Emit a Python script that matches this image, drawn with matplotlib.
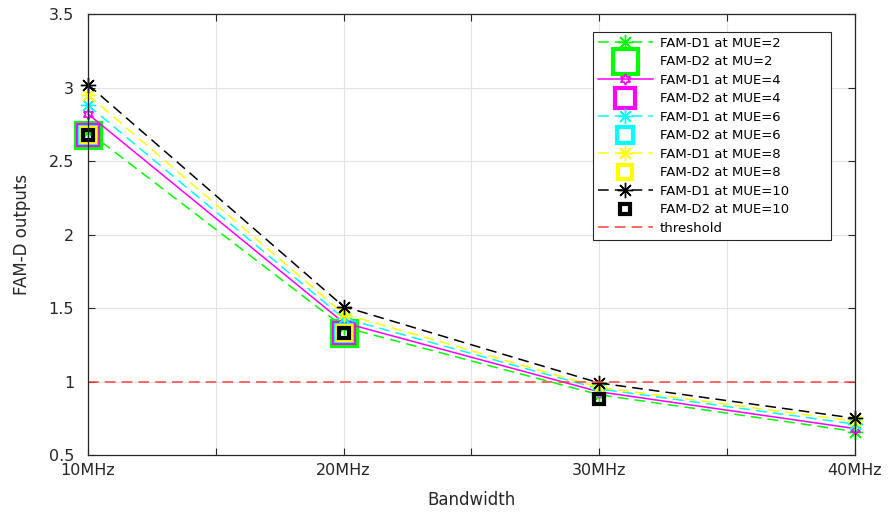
import matplotlib
matplotlib.use('Agg')
import matplotlib.pyplot as plt

plt.rcParams['font.family'] = ['DejaVu Sans']

bandwidth = [10, 20, 30, 40]
tick_pos = [10, 15, 20, 25, 30, 35, 40]
tick_labels = ['10MHz', '', '20MHz', '', '30MHz', '', '40MHz']

# FAM-D1 outputs for each MUE count
d1_mue2 = [2.70, 1.37, 0.91, 0.66]
d1_mue4 = [2.82, 1.40, 0.93, 0.68]
d1_mue6 = [2.88, 1.43, 0.95, 0.71]
d1_mue8 = [2.95, 1.46, 0.96, 0.73]
d1_mue10 = [3.02, 1.51, 0.99, 0.75]

# FAM-D2 outputs (only MUE=10 has a 30MHz point)
d2_bandwidth = [10, 20]
d2_outputs = [2.68, 1.33]
d2_bandwidth_mue10 = [10, 20, 30]
d2_outputs_mue10 = [2.68, 1.33, 0.88]

threshold = 1.0

star = (8, 2, 0)
hexagram = (6, 1, 0)
grey = '#262626'

fig = plt.figure(figsize=(8.96, 5.13), dpi=100)
ax = fig.add_axes([0.0982, 0.113, 0.856, 0.8597])

lw = 1.1
ax.plot(bandwidth, d1_mue2, color='#00ff00', linestyle='--', dashes=(7, 4), lw=lw,
        marker=star, markersize=11, mew=1.0, label='FAM-D1 at MUE=2', clip_on=False)
ax.plot(d2_bandwidth, d2_outputs, color='#00ff00', linestyle='none', marker='s',
        markersize=18, mfc='none', mew=3, label='FAM-D2 at MU=2', clip_on=False)
ax.plot(bandwidth, d1_mue4, color='#ff00ff', linestyle='-', lw=lw,
        marker=hexagram, markersize=8, mfc='none', mew=1.2, label='FAM-D1 at MUE=4',
        clip_on=False)
ax.plot(d2_bandwidth, d2_outputs, color='#ff00ff', linestyle='none', marker='s',
        markersize=15, mfc='none', mew=3, label='FAM-D2 at MUE=4', clip_on=False)
ax.plot(bandwidth, d1_mue6, color='#00ffff', linestyle='--', dashes=(7, 4), lw=lw,
        marker=star, markersize=11, mew=1.0, label='FAM-D1 at MUE=6', clip_on=False)
ax.plot(d2_bandwidth, d2_outputs, color='#00ffff', linestyle='none', marker='s',
        markersize=12, mfc='none', mew=3, label='FAM-D2 at MUE=6', clip_on=False)
ax.plot(bandwidth, d1_mue8, color='#ffff00', linestyle='--', dashes=(7, 4), lw=lw,
        marker=star, markersize=11, mew=1.0, label='FAM-D1 at MUE=8', clip_on=False)
ax.plot(d2_bandwidth, d2_outputs, color='#ffff00', linestyle='none', marker='s',
        markersize=9.5, mfc='none', mew=3, label='FAM-D2 at MUE=8', clip_on=False)
ax.plot(bandwidth, d1_mue10, color='black', linestyle='--', dashes=(7, 4), lw=lw,
        marker=star, markersize=11, mew=1.0, label='FAM-D1 at MUE=10', clip_on=False)
ax.plot(d2_bandwidth_mue10, d2_outputs_mue10, color='black', linestyle='none', marker='s',
        markersize=7, mfc='none', mew=3, label='FAM-D2 at MUE=10', clip_on=False)
ax.plot([bandwidth[0], bandwidth[-1]], [threshold, threshold], color='#ff4040',
        linestyle='--', dashes=(7, 4), lw=lw, label='threshold')

ax.set_xlim(10, 40)
ax.set_ylim(0.5, 3.5)
ax.set_xticks(tick_pos)
ax.set_xticklabels(tick_labels)
ax.set_yticks([0.5, 1, 1.5, 2, 2.5, 3, 3.5])
ax.set_yticklabels(['0.5', '1', '1.5', '2', '2.5', '3', '3.5'])
ax.grid(True, color='#e3e3e3', lw=0.8)
ax.set_axisbelow(True)
ax.tick_params(direction='in', length=5, width=0.8, colors=grey, labelsize=11.5,
               top=True, right=True)
ax.tick_params(axis='x', pad=6)
ax.tick_params(axis='y', pad=10)
for s in ax.spines.values():
    s.set_color(grey)
    s.set_linewidth(0.9)

ax.set_xlabel('Bandwidth', fontsize=12, color=grey, labelpad=9)
ax.set_ylabel('FAM-D outputs', fontsize=12, color=grey, labelpad=13)

leg = ax.legend(loc='upper left', bbox_to_anchor=(593 / 896, 1 - 32 / 513, 238 / 896, 0),
                bbox_transform=fig.transFigure, mode='expand', fontsize=9.5,
                numpoints=1, handlelength=4.2, handletextpad=0.5, labelspacing=0.42,
                borderpad=0.35, borderaxespad=0, fancybox=False, framealpha=1,
                edgecolor=grey)
leg.get_frame().set_linewidth(0.8)

fig.savefig('out.png', dpi=100)
